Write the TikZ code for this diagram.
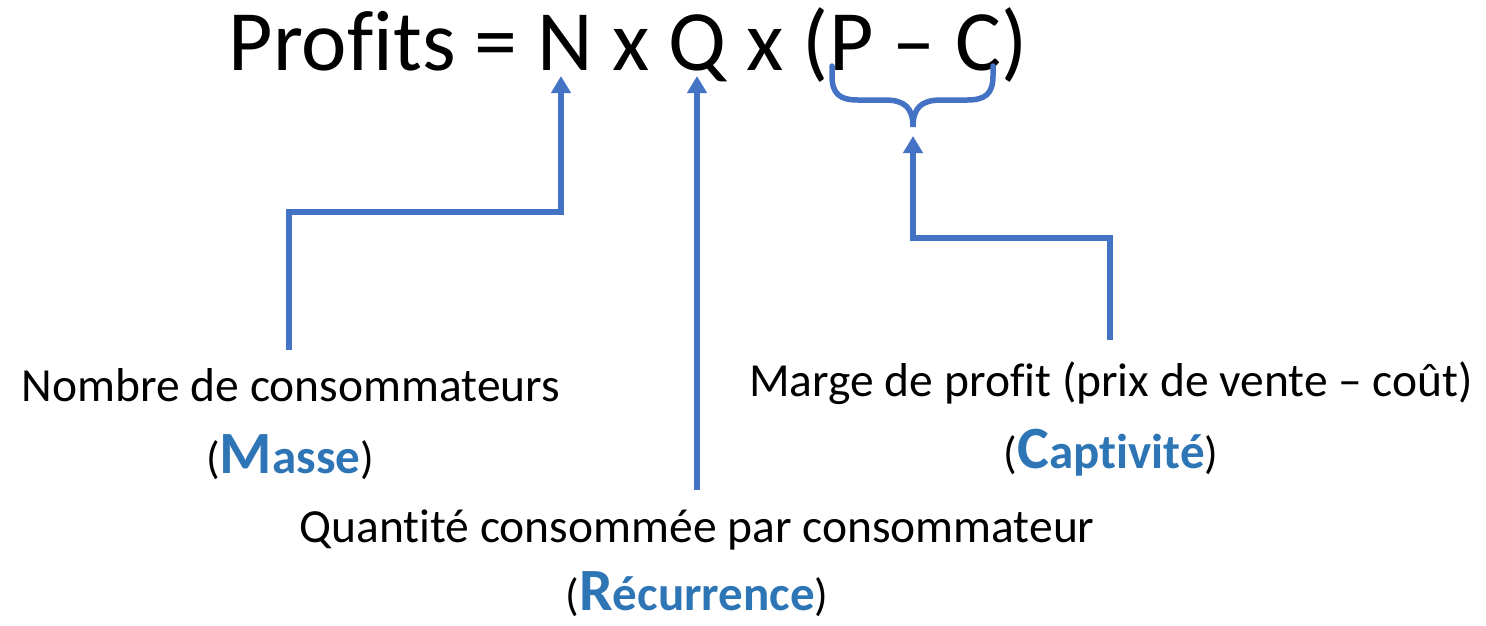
\documentclass[tikz,border=0pt]{standalone}
\usepackage{fontspec}
\setmainfont{Carlito}[Ligatures={TeX,NoCommon}]
\usetikzlibrary{arrows.meta}
\definecolor{lineblue}{HTML}{4472C4}
\definecolor{textblue}{HTML}{2E75B6}
\tikzset{
  conn/.style={draw=lineblue, line width=6pt, -{Triangle[width=19pt,length=17pt]}},
  brace/.style={draw=lineblue, line width=5.5pt, line cap=round},
  lbl/.style={inner sep=0pt, font=\fontsize{47.5}{52}\selectfont},
  kw/.style={inner sep=0pt, font=\fontsize{45}{50}\selectfont},
}
\newcommand{\kwd}[2]{(\textcolor{textblue}{\fontsize{60}{60}\selectfont\bfseries #1\fontsize{49}{50}\selectfont #2})}
\begin{document}
\begin{tikzpicture}[x=1pt,y=-1pt]
\useasboundingbox (0,0) rectangle (1486,625);
\node[inner sep=0pt, anchor=base, font=\fontsize{86}{90}\selectfont] (title) at (628,70) {Profits = N x Q x (P – C)};
\coordinate (nTip) at (561,76);
\coordinate (qTip) at (697,76);
\coordinate (bTip) at (913,127);
\coordinate (cTip) at (913,136);
\node[lbl, anchor=base] (nombre) at (291,401) {Nombre de consommateurs};
\node[kw, anchor=base] (masse) at (290,473) {\kwd{M}{asse}};
\node[lbl, anchor=base] (quant) at (697,542) {Quantité consommée par consommateur};
\node[kw, anchor=base] (recur) at (697,610) {\kwd{R}{écurrence}};
\node[lbl, anchor=base] (marge) at (1111,396) {Marge de profit (prix de vente – coût)};
\node[kw, anchor=base] (capt) at (1111,468) {\kwd{C}{aptivité}};
\draw[conn] (289,350) |- (561,212) -- (nTip);
\draw[conn] (697,490) -- (qTip);
\draw[conn] (1110,340) |- (913,238) -- (cTip);
\draw[brace] (832,66) -- (832,76) .. controls (832,94) and (840,100) .. (858,100) -- (885,100) .. controls (905,100) and (913,108) .. (bTip)
  .. controls (913,108) and (921,100) .. (941,100) -- (967,100) .. controls (985,100) and (993,94) .. (993,76) -- (993,66);
\end{tikzpicture}
\end{document}
